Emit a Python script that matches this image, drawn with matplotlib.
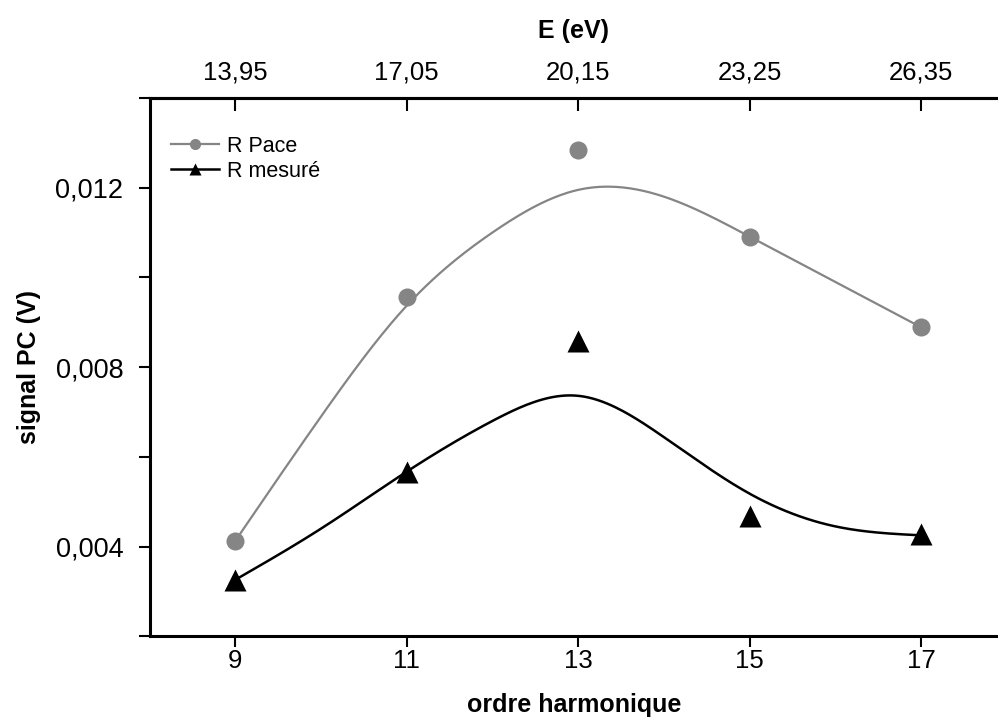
import numpy as np
import matplotlib
matplotlib.use('Agg')
import matplotlib.pyplot as plt
from matplotlib.lines import Line2D

plt.rcParams['font.family'] = ['Liberation Sans', 'DejaVu Sans']

# measured points
harm = [9, 11, 13, 15, 17]
energy = [13.95, 17.05, 20.15, 23.25, 26.35]
r_pace = [0.00413, 0.00956, 0.01285, 0.01091, 0.00889]
r_mesure = [0.00326, 0.00567, 0.00858, 0.00469, 0.00427]

# fitted curves at each order
fit_x = [9, 10, 11, 12, 13, 14, 15, 16, 17]
fit_pace = [0.00413, 0.0069, 0.00937, 0.0110, 0.01195, 0.0118, 0.01091, 0.0099, 0.00889]
fit_mesure = [0.00326, 0.0044, 0.00567, 0.0068, 0.00736, 0.00644, 0.00518, 0.00445, 0.00425]

yticks = [0.002, 0.004, 0.006, 0.008, 0.010, 0.012, 0.014]
ylabels = ['', '0,004', '', '0,008', '', '0,012', '']

grey = '#858585'


def smooth(x, y, n=300):
    # natural cubic spline through the read points, just for drawing
    x = np.asarray(x, float)
    y = np.asarray(y, float)
    h = np.diff(x)
    m = len(x)
    A = np.zeros((m, m))
    b = np.zeros(m)
    A[0, 0] = A[-1, -1] = 1
    for i in range(1, m - 1):
        A[i, i - 1] = h[i - 1]
        A[i, i] = 2 * (h[i - 1] + h[i])
        A[i, i + 1] = h[i]
        b[i] = 6 * ((y[i + 1] - y[i]) / h[i] - (y[i] - y[i - 1]) / h[i - 1])
    M = np.linalg.solve(A, b)
    xs = np.linspace(x[0], x[-1], n)
    k = np.clip(np.searchsorted(x, xs) - 1, 0, m - 2)
    t = xs - x[k]
    hk = h[k]
    a = (y[k + 1] - y[k]) / hk - hk * (2 * M[k] + M[k + 1]) / 6
    ys = y[k] + a * t + M[k] / 2 * t ** 2 + (M[k + 1] - M[k]) / (6 * hk) * t ** 3
    return xs, ys


fig = plt.figure(figsize=(9.98, 7.28), dpi=100)
ax = fig.add_axes([0.150, 0.126, 0.850, 0.7395])

ax.plot(*smooth(fit_x, fit_pace), color=grey, lw=1.6)
ax.plot(*smooth(fit_x, fit_mesure), color='black', lw=1.8)
ax.plot(harm, r_pace, 'o', color=grey, ms=13, mec='none')
ax.plot(harm, r_mesure, '^', color='black', ms=16, mec='none')

ax.set_xlim(8.0, 17.9)
ax.set_ylim(0.002, 0.014)
ax.set_xticks(harm)
ax.set_xticklabels([str(h) for h in harm])
ax.set_yticks(yticks)
ax.set_yticklabels(ylabels)

ax.spines['right'].set_visible(False)
for s in ['left', 'bottom', 'top']:
    ax.spines[s].set_linewidth(2.2)
ax.tick_params(axis='both', direction='out', length=8, width=1.5)
ax.tick_params(axis='x', pad=1.5, labelsize=18.5)
ax.tick_params(axis='y', pad=11, labelsize=19.5)

ax.set_xlabel('ordre harmonique', fontsize=18, fontweight='bold', labelpad=14)
ax.set_ylabel('signal PC (V)', fontsize=18, fontweight='bold', labelpad=10)

# top axis in energy
top = ax.twiny()
top.set_xlim(ax.get_xlim())
top.set_xticks(harm)
top.set_xticklabels([('%.2f' % e).replace('.', ',') for e in energy])
top.spines['right'].set_visible(False)
top.spines['top'].set_linewidth(2.2)
top.tick_params(axis='x', direction='in', length=9, width=1.5, labelsize=18.5, pad=10)
top.set_xlabel('E (eV)', fontsize=18, fontweight='bold', labelpad=16)

handles = [
    Line2D([], [], color=grey, lw=1.6, marker='o', ms=8, mec='none'),
    Line2D([], [], color='black', lw=1.8, marker='^', ms=9, mec='none'),
]
ax.legend(handles, ['R Pace', 'R mesuré'], loc='upper left', bbox_to_anchor=(0.0, 0.97),
          frameon=False, fontsize=15.5, handlelength=2.2, handletextpad=0.4,
          labelspacing=0.2, borderaxespad=0.6)

fig.savefig('out.png', dpi=100)
